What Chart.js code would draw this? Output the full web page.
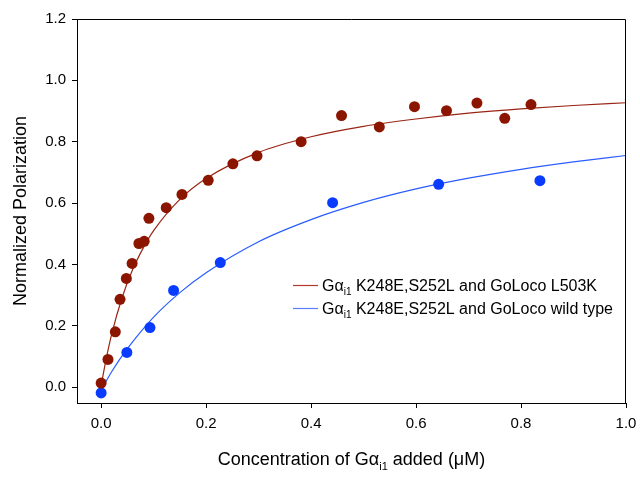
<!DOCTYPE html>
<html>
<head>
<meta charset="utf-8">
<script src="https://cdn.jsdelivr.net/npm/chart.js@4.4.1/dist/chart.umd.min.js"></script>
<style>
  html, body { margin: 0; padding: 0; background: #fff; }
  #wrap { width: 640px; height: 477px; }
</style>
</head>
<body>
<div id="wrap"><canvas id="chart" width="640" height="477"></canvas></div>
<script>
// measured points, L503K (red)
const mutX = [0, 0.013, 0.027, 0.036, 0.048, 0.059, 0.072, 0.082, 0.091, 0.124, 0.154, 0.204, 0.251, 0.297, 0.381, 0.458, 0.53, 0.597, 0.658, 0.716, 0.769, 0.819];
const mutY = [0.013, 0.09, 0.18, 0.286, 0.354, 0.403, 0.468, 0.475, 0.55, 0.585, 0.628, 0.674, 0.728, 0.754, 0.80, 0.885, 0.848, 0.914, 0.901, 0.926, 0.876, 0.921];
// measured points, wild type (blue)
const wtX = [0, 0.049, 0.093, 0.138, 0.227, 0.441, 0.643, 0.836];
const wtY = [-0.019, 0.113, 0.194, 0.315, 0.406, 0.601, 0.661, 0.673];
// fitted curves
const mutFitX = [0, 0.01, 0.02, 0.04, 0.06, 0.08, 0.1, 0.15, 0.2, 0.3, 0.4, 0.5, 0.6, 0.7, 0.8, 0.9, 1.0];
const mutFitY = [0.005, 0.095, 0.172, 0.292, 0.383, 0.453, 0.51, 0.612, 0.68, 0.765, 0.816, 0.85, 0.874, 0.893, 0.907, 0.918, 0.927];
const wtFitX = [0, 0.02, 0.05, 0.1, 0.15, 0.2, 0.3, 0.4, 0.5, 0.6, 0.7, 0.8, 0.9, 1.0];
const wtFitY = [-0.01, 0.05, 0.125, 0.228, 0.308, 0.373, 0.474, 0.546, 0.602, 0.646, 0.681, 0.71, 0.734, 0.755];

const xTicks = [0, 0.2, 0.4, 0.6, 0.8, 1.0];
const yTicks = [0, 0.2, 0.4, 0.6, 0.8, 1.0, 1.2];

const legendLabels = [
  [{t: 'G\u03B1'}, {t: 'i1', sub: true}, {t: ' K248E,S252L and GoLoco L503K'}],
  [{t: 'G\u03B1'}, {t: 'i1', sub: true}, {t: ' K248E,S252L and GoLoco wild type'}]
];
const xTitle = [{t: 'Concentration of G\u03B1'}, {t: 'i1', sub: true}, {t: ' added (\u03BCM)'}];

const RED = '#8c1500';
const BLUE = '#0a3cff';
const FONT = '"Liberation Sans", Arial, sans-serif';

function pts(xs, ys) { return xs.map((x, i) => ({x: x, y: ys[i]})); }

function richWidth(ctx, parts, size) {
  let w = 0;
  parts.forEach(p => {
    ctx.font = (p.sub ? Math.round(size * 0.62) : size) + 'px ' + FONT;
    w += ctx.measureText(p.t).width;
  });
  return w;
}
function drawRich(ctx, parts, x, y, size) {
  ctx.textBaseline = 'alphabetic';
  ctx.textAlign = 'left';
  parts.forEach(p => {
    const s = p.sub ? Math.round(size * 0.62) : size;
    ctx.font = s + 'px ' + FONT;
    ctx.fillText(p.t, x, p.sub ? y + size * 0.25 : y);
    x += ctx.measureText(p.t).width;
  });
}

const extras = {
  id: 'extras',
  afterDraw(chart) {
    const ctx = chart.ctx;
    const a = chart.chartArea;
    ctx.save();
    // top and right frame
    ctx.strokeStyle = '#000';
    ctx.lineWidth = 1;
    ctx.beginPath();
    ctx.moveTo(a.left, a.top + 0.5);
    ctx.lineTo(a.right - 0.5, a.top + 0.5);
    ctx.lineTo(a.right - 0.5, a.bottom);
    ctx.stroke();
    // legend
    const rows = [{c: '#b03a2e', y: 285}, {c: '#5a7dff', y: 308}];
    rows.forEach((r, i) => {
      ctx.strokeStyle = r.c;
      ctx.lineWidth = 1.2;
      ctx.beginPath();
      ctx.moveTo(293, r.y + 0.5);
      ctx.lineTo(318, r.y + 0.5);
      ctx.stroke();
      ctx.fillStyle = '#000';
      drawRich(ctx, legendLabels[i], 322, r.y + 6, 16);
    });
    // x axis title
    ctx.fillStyle = '#000';
    const w = richWidth(ctx, xTitle, 18);
    drawRich(ctx, xTitle, (a.left + a.right) / 2 - w / 2, 465, 18);
    // y axis title
    ctx.translate(26, (a.top + a.bottom) / 2);
    ctx.rotate(-Math.PI / 2);
    ctx.font = '18px ' + FONT;
    ctx.textAlign = 'center';
    ctx.textBaseline = 'alphabetic';
    ctx.fillText('Normalized Polarization', 0, 0);
    ctx.restore();
  }
};

new Chart(document.getElementById('chart'), {
  type: 'scatter',
  data: {
    datasets: [
      {data: pts(mutX, mutY), backgroundColor: RED, borderColor: RED, pointRadius: 5.5, pointHoverRadius: 5.5, borderWidth: 0, order: 1},
      {data: pts(wtX, wtY), backgroundColor: BLUE, borderColor: BLUE, pointRadius: 5.5, pointHoverRadius: 5.5, borderWidth: 0, order: 1},
      {data: pts(mutFitX, mutFitY), showLine: true, pointRadius: 0, borderColor: '#9a2414', borderWidth: 1.2, cubicInterpolationMode: 'monotone', order: 2},
      {data: pts(wtFitX, wtFitY), showLine: true, pointRadius: 0, borderColor: '#2a5cff', borderWidth: 1.2, cubicInterpolationMode: 'monotone', order: 2}
    ]
  },
  options: {
    responsive: false,
    animation: false,
    events: [],
    layout: {padding: {left: 0, top: 19, right: 14, bottom: 0}},
    plugins: {legend: {display: false}, tooltip: {enabled: false}},
    scales: {
      x: {
        type: 'linear',
        min: -0.046,
        max: 1.0,
        afterBuildTicks: s => { s.ticks = xTicks.map(v => ({value: v})); },
        afterFit: s => { s.height = 74; s.paddingLeft = 0; s.paddingRight = 0; },
        grid: {display: true, drawOnChartArea: false, drawTicks: true, tickLength: 5, tickColor: '#000'},
        border: {display: true, color: '#000', width: 1},
        ticks: {color: '#000', font: {family: FONT, size: 15}, padding: 7, maxRotation: 0, callback: v => v.toFixed(1)}
      },
      y: {
        type: 'linear',
        min: -0.052,
        max: 1.2,
        afterBuildTicks: s => { s.ticks = yTicks.map(v => ({value: v})); },
        afterFit: s => { s.width = 77; s.paddingTop = 0; s.paddingBottom = 0; },
        grid: {display: true, drawOnChartArea: false, drawTicks: true, tickLength: 5, tickColor: '#000'},
        border: {display: true, color: '#000', width: 1},
        ticks: {color: '#000', font: {family: FONT, size: 15}, padding: 6, callback: v => v.toFixed(1)}
      }
    }
  },
  plugins: [extras]
});
</script>
</body>
</html>
